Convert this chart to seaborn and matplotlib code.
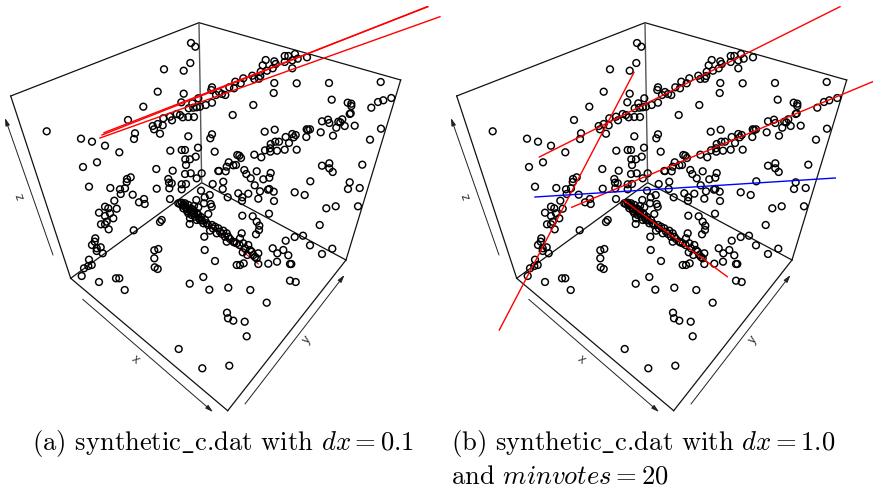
import matplotlib
matplotlib.use("Agg")
import matplotlib.pyplot as plt
import pandas as pd
import seaborn as sns

# projected point positions
back_left_points = [
    (191,43),(195.3,46.7),(190.3,63),(164,69.3),(183.7,70.7),(157.7,91.7),(183.7,93.7),(143.3,106.7),(128,120),
    (46.7,131.3),(81,138.7),(92,141.7),(105,145.7),(119.3,152.3),(135,133.3),(134,139),(160,133.7),(152.7,126),
    (154,129.3),(157.7,124),(162.7,125.3),(163.3,118.3),(170,116.7),(172,120.3),(176.7,114),(180,115),(182.7,117.3),
    (188.3,117),(194,117),(181.3,102.3),(188.7,108.3),(193.3,107.7),(196.7,107.3),(200,106.7),(198.3,98.3),
    (192.3,103.3),(205.7,105),(212,102.7),(212,87.3),(211.3,90),(216,95),(219,92),(222,94),(188.3,136.3),(212,134.3),
    (210.3,138.3),(170.3,150.7),(181.7,150),(185,150),(198,147.7),(214.7,151.7),(195.7,156.7),(185.3,159.3),
    (190,159.3),(186,165),(97,162.3),(83,167),(156.3,169),(172.7,170.7),(185,174),(190.7,173.3),(196.7,178.3),
    (201.7,173.3),(218.3,171),(89,186.7),(110.3,188),(127,179),(130.7,177.3),(126.7,182),(125,188.3),(120,189.3),
    (120.7,194),(132.7,194.7),(114.3,200.7),(139,202.3),(144,199),(144.7,204),(156.7,188.7),(168.3,179),(169,182.7),
    (171.7,183.3),(169.3,188.3),(181.7,184.3),(186,184),(181.7,189.3),(212.7,184),(201,190.7),(209.7,195),
    (204.7,197.3),(196.3,200),(170,199),(105,206.7),(108.3,208.3),(116.7,208.7),(204,203.3),(210.7,204),(198.3,207.3),
]
back_right_points = [
    (295,54),(288.3,56),(284.7,56),(307,57.3),(297.7,58.7),(292.3,60.3),(284.7,62),(265.7,60),(274.3,61.3),(275.7,64),
    (262.7,65.3),(272.7,68.3),(292.3,68.3),(267,70.7),(260.7,71.7),(252.3,75.7),(254.3,79),(259,78.7),(260.3,76),
    (243.3,78.3),(240.7,83.3),(235.3,81.7),(234,88.3),(229.3,87.3),(225.3,95),(274.3,83),(296.7,83.3),(329,83),
    (380.7,82),(273.7,93),(331.7,99.7),(253.3,105),(347.7,102.7),(351.3,103.7),(351.3,106),(350.7,113.3),(349.7,114),
    (371.3,107.7),(378,102),(383.3,100.3),(391.3,98),(232.7,115),(328,119.7),(322,121.3),(329.3,123),(338.3,121.7),
    (342.3,119.3),(340.3,122.3),(336.3,127.7),(344.7,126),(354.7,125.7),(381,128.7),(264.7,131.7),(274.7,129.7),
    (320.7,132.3),(333,135.7),(306.7,129.3),(310,129.3),(308,130),(292.3,134),(295.7,135),(293.7,137.3),(285.7,137),
    (306.3,137),(279,141.7),(275.3,141.7),(289,143),(270.7,144),(270,148.3),(296.7,149.7),(284.7,149.7),(277,150.7),
    (265,150.3),(270.3,151.7),(370,139.7),(254.3,154.7),(261.3,157.3),(237.3,155),(239.3,155.7),(241,158),(228.7,162.3),
    (226.7,166.7),(219,171),(225.7,171.3),(233.3,165.3),(236,165),(322,165.7),(329.3,163.3),(329.3,168.3),(332.7,172),
    (362.3,164.7),(244.3,170),(246.3,174),(256.7,171.3),(270.7,173),(269.3,177.7),(263.3,179.3),(250.7,178.3),
    (254.7,185.3),(223.3,181.7),(222.7,189),(310.3,181.3),(349.7,182.3),(348,189),(359.7,188),(260,191.3),(269.3,189),
    (268,189.7),(273.7,191.7),(294.7,192.3),(304.7,195),(238.3,193.3),(248.3,193.7),(242.3,197.3),(242,201),(258.3,198.7),
    (274,201),(227.7,197.3),(326.3,208.3),(335.7,206.3),(358,206.3),
]
lower_points = [
    (99,212.7),(105,216),(110,213.3),(113.3,218.3),(106.7,221.7),(101,224.3),(105,224.3),(108.7,229.3),(133.7,230.3),
    (161.7,220),(160,222),(95.3,238.3),(94.7,241.7),(92,245),(100.7,247.3),(96.7,248.3),(96.7,251),(102.7,253.3),
    (89,259.7),(91.7,265),(88.3,266),(84,268.3),(81.7,276),(99,282),(116,278.3),(119.3,278.3),(124.7,290),(154.3,250.3),
    (158.3,249),(154.3,258.3),(154.7,267.3),(157.7,269),(189.7,283.7),(203.3,277),(209.3,289.7),(228.3,287.7),
    (250.3,290),(266.7,302.7),(227,312.7),(228,318.3),(233.3,320.7),(244.7,321.7),(246.7,336.3),(178.7,349),
    (202.3,368.3),(229.3,365.7),(204.7,250),(215,261),(236.7,265),(240,265),(243.7,263.3),(268.3,263.7),(277,261.7),
    (290,264),(291.3,264),(290,280.7),(295.7,282),(272.7,248.3),(277.3,253.3),(283.3,250),(288.3,255.3),(285.7,240.7),
    (294.7,237),(303,235.7),(310,245.3),(322,254),(332.3,248.7),(319.7,225),(242.3,215.7),(252.7,216.3),(269,213.7),
    (256.7,221.7),(259.3,225.7),(259,230),(256,234.3),
]
diagonal_points = [
    (178.3,203.3),(181.7,202.7),(185,203.3),(188.3,205),(183.3,208.3),(186.7,208.3),(190.7,208.3),(193.3,210),
    (188.3,213.3),(191.7,215),(195,216.7),(198.3,215),(196.7,220),(200,220),(190,218.3),(189.7,224),(203.3,223.3),
    (208.3,214),(211.7,206.7),(206.7,223.3),(210,230.7),(204.3,236.7),(215,226.7),(218.3,228.3),(216.7,233.3),
    (220,231.7),(223.3,230.7),(226.7,233.3),(225,236.7),(228.3,236.7),(226.7,241.7),(233.3,241.7),(236.7,243.3),
    (241.7,233.3),(240,238.3),(243.3,243.3),(245,248.3),(248.3,245),(251.7,251.7),(242.7,252.3),(247.3,255),
    (258.3,253.3),(256.7,258.3),(258.3,264),(253.3,255),(250,250),(184,205),(187,211),(192,212),(197,213),(201,217),
    (194,206),(205,220),(212,225),(180,204),(182.5,205.5),(185.5,207),(188,209.5),(191,211),(194,213.5),(199,218),
    (202,220.5),(208,225),(213,228.5),(222,234),(230,239),(234.5,242.5),(239.5,245),(255,257),
]

panel_offset = [0, 446]

# box and axis arrows, same for both panels
box_edges = [
    ((10.7,96),(199,22.7)),((199,22.7),(400.7,80)),((10.7,96),(70.7,278.3)),((70.7,278.3),(201.7,182.7)),
    ((201.7,182.7),(346,260)),((70.7,278.3),(227.7,410.7)),((227.7,410.7),(346,260)),((346,260),(400.7,80)),
]
box_back_edge = ((199,22.7),(201.7,182.7))
axis_arrows = [((82.7,299.3),(213,412)),((245,404),(344.5,275)),((53,255),(5,118))]
axis_labels = [("x",135.3,359.3,-40),("y",306.7,340,52),("z",20.7,196,109)]

# detected lines, left panel then right panel
left_red_lines = [((100,138),(440,16.7)),((102,135),(427,6.7)),((104,132.7),(428,6.7))]
left_short_line = ((180.7,201.7),(258.3,264))
right_red_lines = [((539.3,157),(840,6.7)),((634,72.3),(499.3,330)),((571.7,207.3),(872.7,81.7)),((623.3,200),(727.3,276.7))]
right_blue_lines = [((535,197),(835.3,178))]

captions = [
    (32, 450, r"(a) synthetic$\_$c.dat with $dx=0.1$"),
    (451, 450, r"(b) synthetic$\_$c.dat with $dx=1.0$"),
    (451, 484, r"and $minvotes=20$"),
]

plt.rcParams["mathtext.fontset"] = "cm"
fig = plt.figure(figsize=(8.73, 4.88), dpi=100)
ax = fig.add_axes([0, 0, 1, 1])


def draw_line(p, q, dx=0, color="black", lw=1.0, z=2):
    sns.lineplot(x=[p[0] + dx, q[0] + dx], y=[p[1], q[1]], color=color, linewidth=lw,
                 estimator=None, sort=False, ax=ax, zorder=z)


points = pd.DataFrame(back_left_points + back_right_points + lower_points + diagonal_points, columns=["x", "y"])

for dx in panel_offset:
    for p, q in box_edges:
        draw_line(p, q, dx, "#111111", 0.9)
    draw_line(box_back_edge[0], box_back_edge[1], dx, "#555555", 1.0)
    for p, q in axis_arrows:
        ax.annotate("", xy=(q[0] + dx, q[1]), xytext=(p[0] + dx, p[1]),
                    arrowprops=dict(arrowstyle="-|>,head_length=0.45,head_width=0.13", color="#222222",
                                    lw=0.7, shrinkA=0, shrinkB=0))
    for label, x, y, rot in axis_labels:
        ax.text(x + dx, y, label, rotation=rot, fontsize=9, color="#333333", ha="center", va="center",
                rotation_mode="anchor", family="Liberation Sans")
    sns.scatterplot(x=points["x"] + dx, y=points["y"], s=24, facecolor="none", edgecolor="black",
                    linewidth=1.05, ax=ax, zorder=3)

for p, q in left_red_lines + right_red_lines:
    draw_line(p, q, 0, "#ff0000", 1.0, 4)
draw_line(left_short_line[0], left_short_line[1], 0, "#ff0000", 0.8, 2.5)
for p, q in right_blue_lines:
    draw_line(p, q, 0, "#0000ff", 1.0, 4)

for x, y, s in captions:
    ax.text(x, y, s, fontsize=19.15, color="black", ha="left", va="baseline", family=["cmr10", "DejaVu Serif"])

ax.set_xlim(0, 873)
ax.set_ylim(488, 0)
ax.axis("off")
fig.savefig("out.png", dpi=100)
